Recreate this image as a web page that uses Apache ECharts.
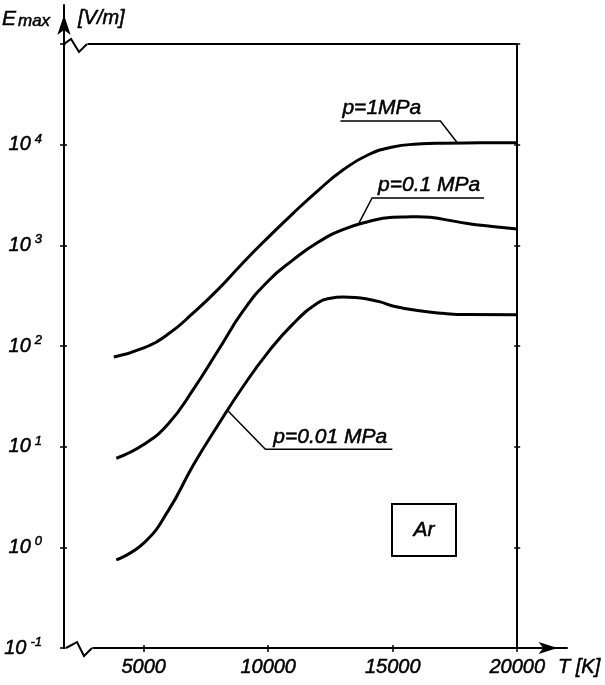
<!DOCTYPE html>
<html>
<head>
<meta charset="utf-8">
<script src="https://cdn.jsdelivr.net/npm/echarts@6/dist/echarts.min.js"></script>
<style>
  html, body { margin: 0; padding: 0; background: #fff; }
  #chart { width: 605px; height: 685px; }
</style>
</head>
<body>
<div id="chart"></div>
<script>
// Maximum field strength E_max [V/m] of argon plasma versus temperature T [K]

// p = 1 MPa
const tempP1 = [3800, 5000, 6000, 7000, 8000, 9000, 10000, 11000, 12000, 13000, 14000,
                15000, 16000, 17000, 18500, 20000];
const emaxP1 = [77.6, 95.5, 132, 214, 367, 676, 1200, 2080, 3500, 5590, 7890,
                9480, 10120, 10350, 10420, 10470];

// p = 0.1 MPa
const tempP01 = [3900, 5000, 6000, 7000, 8000, 9000, 10000, 11000, 12000, 13000, 14000,
                 15000, 15500, 16000, 16500, 17000, 18000, 19000, 20000];
const emaxP01 = [7.67, 10.5, 17.0, 37.2, 91.2, 224, 442, 716, 1072, 1432, 1714,
                 1897, 1915, 1918, 1900, 1820, 1648, 1540, 1452];

// p = 0.01 MPa
const tempP001 = [3900, 5000, 6000, 7000, 8000, 9000, 10000, 11000, 12000, 12500, 13000,
                  13500, 14000, 14500, 15000, 16000, 17000, 18000, 20000];
const emaxP001 = [0.75, 1.10, 2.34, 6.6, 16.6, 39.8, 87, 166, 269, 298, 306,
                  303, 292, 274, 250, 225, 211, 205, 204];

const curveNames = ['p=1MPa', 'p=0.1 MPa', 'p=0.01 MPa'];
// point on each curve where the label leader touches it
const leaderTemp = [17600, 13650, 8400];
const leaderEmax = [10400, 1670, 22.5];

const xTickValues = [5000, 10000, 15000, 20000];
const yLabelValues = [0.1, 1, 10, 100, 1000, 10000];
const yTickValues = [0.1, 1, 10, 100, 1000, 10000, 100000];

const gasName = 'Ar';
const xName = 'T [K]';
const yName = 'E';
const yNameSub = 'max';
const yUnit = '[V/m]';

// axis extents: the frame stops at 20000 K / 1e5 V/m, the arrows run a bit further
const X_MIN = 1800, X_FRAME = 20000, X_END = 22000;
const Y_MIN = 0.1, Y_FRAME = 1e5, Y_END = Math.pow(10, 5.387);

const FONT = '"Liberation Sans", Arial, sans-serif';
const BLACK = '#000';
const INK = { textBorderColor: BLACK, textBorderWidth: 0.5 };

const zip = (xs, ys) => xs.map((x, i) => [x, ys[i]]);

const chart = echarts.init(document.getElementById('chart'), null, { renderer: 'canvas' });

const lineAxis = { color: BLACK, width: 2 };
const tickStyle = { color: BLACK, width: 1.5 };
const hidden = { show: false };

const option = {
  animation: false,
  backgroundColor: '#fff',
  grid: [
    { left: 64, right: 38, top: 5, bottom: 37 },
    { left: 64, right: 87.8, top: 44, bottom: 37 }
  ],
  xAxis: [
    {
      type: 'value', gridIndex: 0, min: X_MIN, max: X_END, position: 'bottom',
      axisLine: { show: true, lineStyle: lineAxis, symbol: ['none', 'arrow'], symbolSize: [9, 19], symbolOffset: [0, -9.5] },
      axisTick: { show: true, inside: false, length: 4, lineStyle: tickStyle, customValues: xTickValues },
      axisLabel: Object.assign({
        show: true, customValues: xTickValues, margin: 9, color: BLACK,
        fontSize: 20, fontStyle: 'italic', fontFamily: FONT, formatter: v => String(v)
      }, INK),
      splitLine: hidden
    },
    {
      type: 'value', gridIndex: 0, min: X_MIN, max: X_END, position: 'bottom',
      axisLine: hidden,
      axisTick: { show: true, inside: true, length: 3, lineStyle: tickStyle, customValues: xTickValues },
      axisLabel: hidden, splitLine: hidden
    },
    {
      type: 'value', gridIndex: 1, min: X_MIN, max: X_FRAME, position: 'top',
      axisLine: { show: true, lineStyle: lineAxis },
      axisTick: hidden, axisLabel: hidden, splitLine: hidden
    }
  ],
  yAxis: [
    {
      type: 'log', logBase: 10, gridIndex: 0, min: Y_MIN, max: Y_END, position: 'left',
      axisLine: { show: true, lineStyle: lineAxis, symbol: ['none', 'arrow'], symbolSize: [10, 20], symbolOffset: [0, -10] },
      axisTick: { show: true, inside: false, length: 4, lineStyle: tickStyle, customValues: yTickValues },
      axisLabel: {
        show: true, customValues: yLabelValues, margin: 22,
        formatter: v => '{b|10}{s|' + Math.round(Math.log10(v)) + '}',
        rich: {
          b: Object.assign({ fontSize: 20, fontStyle: 'italic', fontFamily: FONT, color: BLACK }, INK),
          s: Object.assign({ fontSize: 13, fontStyle: 'italic', fontFamily: FONT, color: BLACK, padding: [0, 0, 11, 4] }, INK)
        }
      },
      splitLine: hidden
    },
    {
      type: 'log', logBase: 10, gridIndex: 0, min: Y_MIN, max: Y_END, position: 'left',
      axisLine: hidden,
      axisTick: { show: true, inside: true, length: 3, lineStyle: tickStyle, customValues: yTickValues },
      axisLabel: hidden, splitLine: hidden
    },
    {
      type: 'log', logBase: 10, gridIndex: 1, min: Y_MIN, max: Y_FRAME, position: 'right',
      axisLine: { show: true, lineStyle: lineAxis },
      axisTick: { show: true, inside: false, length: 3, lineStyle: tickStyle, customValues: yTickValues },
      axisLabel: hidden, splitLine: hidden
    },
    {
      type: 'log', logBase: 10, gridIndex: 1, min: Y_MIN, max: Y_FRAME, position: 'right',
      axisLine: hidden,
      axisTick: { show: true, inside: true, length: 3, lineStyle: tickStyle, customValues: yTickValues },
      axisLabel: hidden, splitLine: hidden
    }
  ],
  series: [
    { name: curveNames[0], data: zip(tempP1, emaxP1) },
    { name: curveNames[1], data: zip(tempP01, emaxP01) },
    { name: curveNames[2], data: zip(tempP001, emaxP001) }
  ].map(s => Object.assign({
    type: 'line', xAxisIndex: 0, yAxisIndex: 0, smooth: 0.5,
    showSymbol: false, symbol: 'none',
    lineStyle: { color: BLACK, width: 3 }, z: 5
  }, s))
};

chart.setOption(option);

// ---- annotations: labels with leaders, axis breaks, axis names, gas box ----
const px = (v) => chart.convertToPixel({ xAxisIndex: 0, yAxisIndex: 0 }, v);
const italic = (size) => 'italic ' + size + 'px ' + FONT;
const textStyle = (text, size, extra) => Object.assign({ text: text, font: italic(size), fill: BLACK, stroke: BLACK, lineWidth: 0.5 }, extra || {});
const g = [];

// leader layout: elbow offset from the curve point, underline length and direction
const leaderLayout = [
  { dx: -17, dy: -22, len: 100, dir: -1, textPad: 2 },
  { dx: 13, dy: -25, len: 112, dir: 1, textPad: 6 },
  { dx: 37, dy: 38, len: 127, dir: 1, textPad: 8 }
];
curveNames.forEach((name, i) => {
  const a = px([leaderTemp[i], leaderEmax[i]]);
  const L = leaderLayout[i];
  const ex = a[0] + L.dx, ey = a[1] + L.dy;
  const ux = ex + L.dir * L.len;
  g.push({ type: 'polyline', z: 50, shape: { points: [[a[0], a[1]], [ex, ey], [ux, ey]] },
           style: { stroke: BLACK, lineWidth: 1.5, fill: null } });
  const left = Math.min(ex, ux) + L.textPad;
  g.push({ type: 'text', z: 50, x: left, y: ey - 2,
           style: textStyle(name, 21, { align: 'left', verticalAlign: 'bottom' }) });
});

// axis breaks near the origin (bottom line) and at the top frame line
const originPx = px([X_MIN, Y_MIN]);
const frameTopPx = chart.convertToPixel({ xAxisIndex: 2, yAxisIndex: 2 }, [X_MIN, Y_FRAME]);
[[originPx, [[2, 0], [13, -6], [20, 8], [28, 0]]], [frameTopPx, [[0, 0], [7, -5], [15, 8], [23, 0]]]].forEach(([p0, zz]) => {
  g.push({ type: 'rect', z: 60, shape: { x: p0[0] + 1.5, y: p0[1] - 2, width: zz[3][0] - 1, height: 4 },
           style: { fill: '#fff' } });
  g.push({ type: 'polyline', z: 61, shape: { points: zz.map(q => [p0[0] + q[0], p0[1] + q[1]]) },
           style: { stroke: BLACK, lineWidth: 2, fill: null } });
});

// axis names
g.push({ type: 'text', z: 50, x: 2, y: 30, style: textStyle(yName, 21, { verticalAlign: 'bottom' }) });
g.push({ type: 'text', z: 50, x: 18, y: 30, style: textStyle(yNameSub, 17, { verticalAlign: 'bottom' }) });
g.push({ type: 'text', z: 50, x: 78, y: 28, style: textStyle(yUnit, 20, { verticalAlign: 'bottom' }) });
g.push({ type: 'text', z: 50, x: 558, y: 677, style: textStyle(xName, 20, { verticalAlign: 'bottom' }) });

// gas label box
g.push({ type: 'rect', z: 50, shape: { x: 392, y: 504, width: 64, height: 52 },
         style: { fill: '#fff', stroke: BLACK, lineWidth: 2 } });
g.push({ type: 'text', z: 51, x: 424, y: 530,
         style: textStyle(gasName, 21, { align: 'center', verticalAlign: 'middle' }) });

chart.setOption({ graphic: { elements: g } });
</script>
</body>
</html>
